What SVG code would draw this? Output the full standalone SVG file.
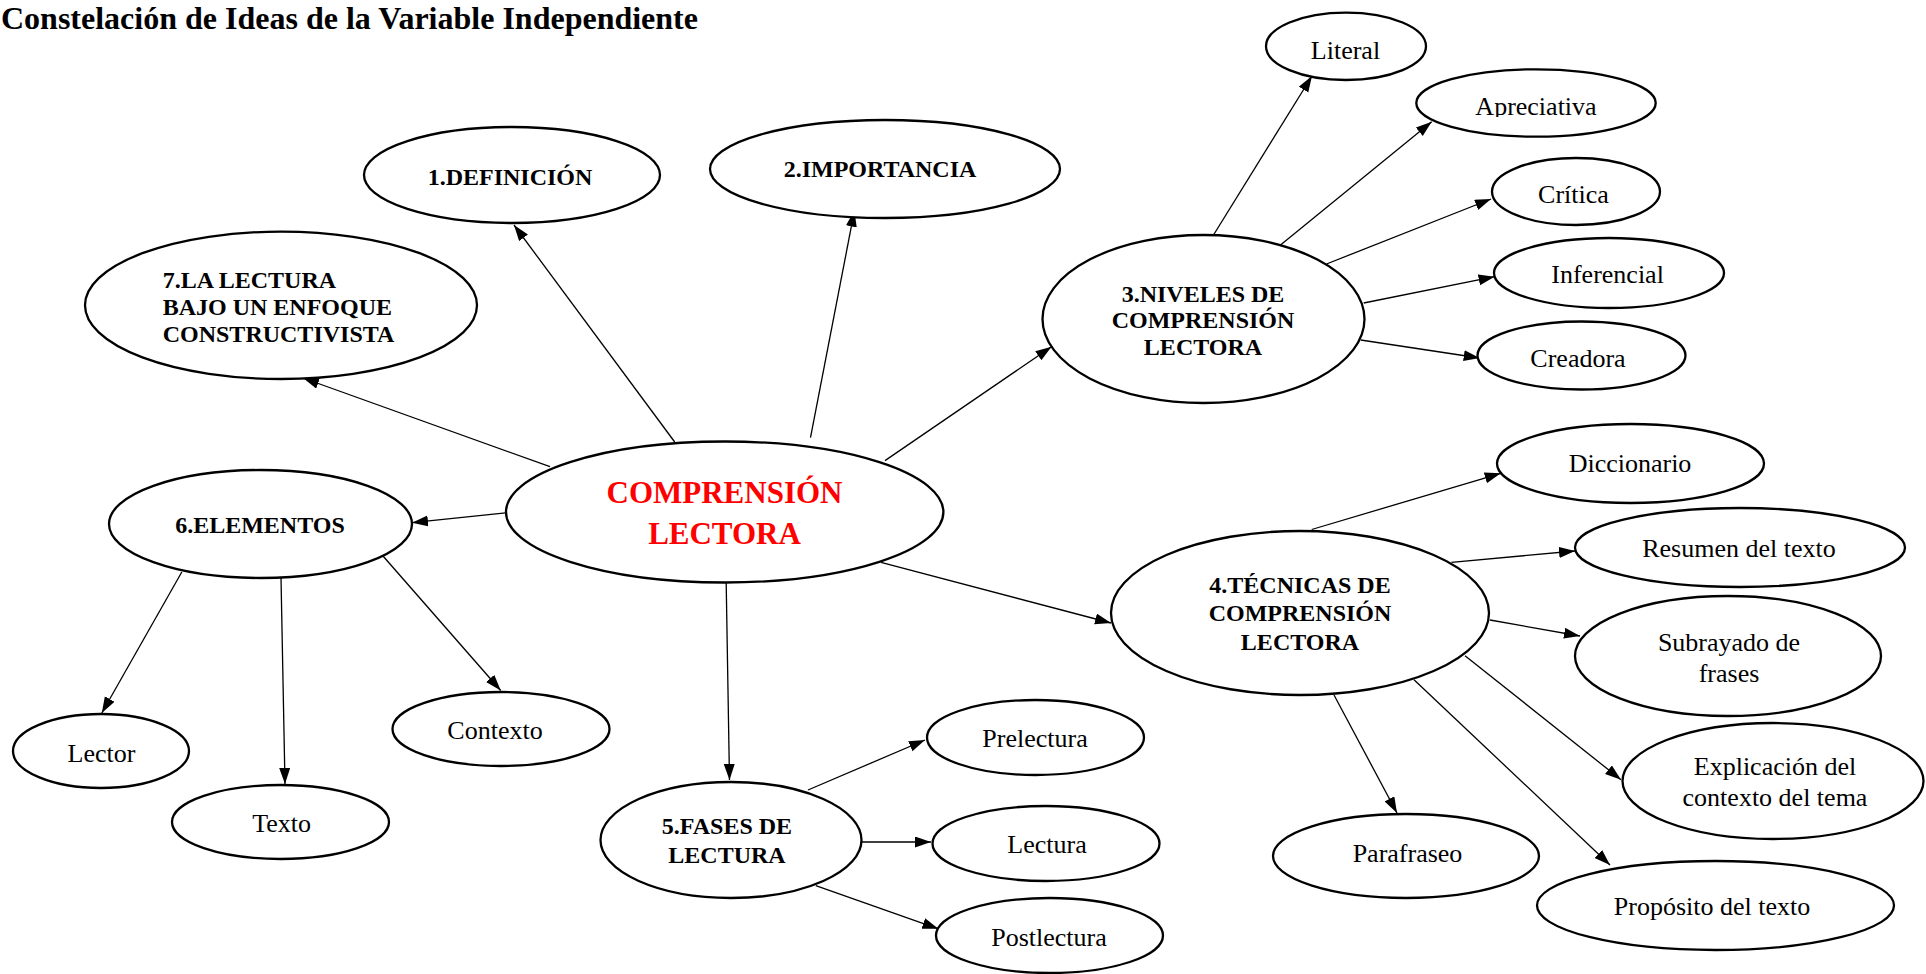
<svg xmlns="http://www.w3.org/2000/svg" width="1926" height="974" viewBox="0 0 1926 974">
<style>
  .n ellipse { fill: #fff; stroke: #000; stroke-width: 2.3; }
  .b { font-family: "Liberation Serif", "Times New Roman", serif; font-weight: bold; font-size: 24px; fill: #000; text-anchor: middle; }
  .r { font-family: "Liberation Serif", "Times New Roman", serif; font-size: 26px; fill: #000; text-anchor: middle; }
  .main { font-family: "Liberation Serif", "Times New Roman", serif; font-weight: bold; font-size: 31px; fill: #ff0000; text-anchor: middle; }
  .title { font-family: "Liberation Serif", "Times New Roman", serif; font-weight: bold; font-size: 32px; fill: #000; }
  #connectors line { stroke: #000; stroke-width: 1.3; marker-end: url(#ah); }
</style>
<defs>
  <marker id="ah" markerUnits="userSpaceOnUse" markerWidth="17" markerHeight="12" refX="16" refY="5.5" orient="auto">
    <path d="M0,0 L16,5.5 L0,11 z" fill="#000"/>
  </marker>
  <clipPath id="clipAp"><rect x="1400" y="60" width="300" height="57"/></clipPath>
</defs>
<rect width="1926" height="974" fill="#fff"/>
<text class="title" x="1" y="29">Constelación de Ideas de la Variable Independiente</text>

<g id="connectors">
  <line x1="550" y1="466.7" x2="303" y2="378"/>
  <line x1="674.7" y1="442" x2="514" y2="225"/>
  <line x1="810.5" y1="437.7" x2="854.4" y2="210.7"/>
  <line x1="885" y1="460.6" x2="1051.5" y2="346.7"/>
  <line x1="505.6" y1="512.8" x2="412" y2="522.7"/>
  <line x1="726" y1="571.4" x2="729.5" y2="780"/>
  <line x1="881" y1="562.4" x2="1111" y2="623"/>
  <line x1="1213.5" y1="235" x2="1312" y2="76"/>
  <line x1="1280.5" y1="245" x2="1431.7" y2="121.7"/>
  <line x1="1326.5" y1="264" x2="1491" y2="199"/>
  <line x1="1363.7" y1="303" x2="1494.6" y2="276.7"/>
  <line x1="1360.7" y1="340" x2="1479.7" y2="358"/>
  <line x1="181.8" y1="572" x2="101.8" y2="713"/>
  <line x1="281" y1="577.6" x2="285" y2="784"/>
  <line x1="379.5" y1="552" x2="500.7" y2="690.5"/>
  <line x1="1311.7" y1="529.5" x2="1500.7" y2="473.3"/>
  <line x1="1451.5" y1="562.4" x2="1575" y2="551"/>
  <line x1="1490" y1="620" x2="1580" y2="636"/>
  <line x1="1465" y1="655.7" x2="1621" y2="779.7"/>
  <line x1="1414" y1="679.7" x2="1610" y2="865"/>
  <line x1="1334" y1="695" x2="1397" y2="813"/>
  <line x1="808" y1="790" x2="925" y2="740"/>
  <line x1="862" y1="842" x2="931" y2="842"/>
  <line x1="815.8" y1="885.7" x2="938.4" y2="928.8"/>
</g>

<g id="node-center" class="n">
  <ellipse cx="724.7" cy="512" rx="218.7" ry="70.5"/>
  <text class="main" x="724.5" y="502.7">COMPRENSIÓN</text>
  <text class="main" x="724.5" y="544.3">LECTORA</text>
</g>
<g id="node-definicion" class="n">
  <ellipse cx="512" cy="175" rx="148" ry="48"/>
  <text class="b" x="510" y="185">1.DEFINICIÓN</text>
</g>
<g id="node-importancia" class="n">
  <ellipse cx="885" cy="169" rx="175" ry="49"/>
  <text class="b" x="880" y="177">2.IMPORTANCIA</text>
</g>
<g id="node-niveles" class="n">
  <ellipse cx="1203.5" cy="319" rx="161" ry="84"/>
  <text class="b" x="1203" y="301.7">3.NIVELES DE</text>
  <text class="b" x="1203" y="328.3">COMPRENSIÓN</text>
  <text class="b" x="1203" y="355">LECTORA</text>
</g>
<g id="node-tecnicas" class="n">
  <ellipse cx="1300" cy="613" rx="189" ry="82"/>
  <text class="b" x="1300" y="593">4.TÉCNICAS DE</text>
  <text class="b" x="1300" y="621.4">COMPRENSIÓN</text>
  <text class="b" x="1300" y="649.7">LECTORA</text>
</g>
<g id="node-fases" class="n">
  <ellipse cx="731" cy="840" rx="130.5" ry="58"/>
  <text class="b" x="727" y="834">5.FASES DE</text>
  <text class="b" x="727" y="863">LECTURA</text>
</g>
<g id="node-elementos" class="n">
  <ellipse cx="260.5" cy="524" rx="151.5" ry="54"/>
  <text class="b" x="260" y="532.6">6.ELEMENTOS</text>
</g>
<g id="node-lectura-enfoque" class="n">
  <ellipse cx="281" cy="305.3" rx="196" ry="73.7"/>
  <text class="b" style="text-anchor:start" x="162.7" y="288.3">7.LA LECTURA</text>
  <text class="b" style="text-anchor:start" x="162.7" y="315">BAJO UN ENFOQUE</text>
  <text class="b" style="text-anchor:start" x="162.7" y="342.3">CONSTRUCTIVISTA</text>
</g>

<g id="node-literal" class="n">
  <ellipse cx="1346" cy="46.3" rx="80" ry="33.7"/>
  <text class="r" x="1345.5" y="59.3">Literal</text>
</g>
<g id="node-apreciativa" class="n">
  <ellipse cx="1536" cy="103" rx="119.7" ry="33.7"/>
  <text class="r" x="1536" y="115" clip-path="url(#clipAp)">Apreciativa</text>
</g>
<g id="node-critica" class="n">
  <ellipse cx="1576" cy="191.5" rx="84" ry="33.5"/>
  <text class="r" x="1573.5" y="203">Crítica</text>
</g>
<g id="node-inferencial" class="n">
  <ellipse cx="1609" cy="273" rx="115" ry="35"/>
  <text class="r" x="1607.6" y="283">Inferencial</text>
</g>
<g id="node-creadora" class="n">
  <ellipse cx="1581.5" cy="355.5" rx="104" ry="34"/>
  <text class="r" x="1578" y="367">Creadora</text>
</g>

<g id="node-diccionario" class="n">
  <ellipse cx="1630.5" cy="463.5" rx="133.5" ry="39.5"/>
  <text class="r" x="1630" y="471.7">Diccionario</text>
</g>
<g id="node-resumen" class="n">
  <ellipse cx="1740" cy="547.5" rx="165" ry="39.5"/>
  <text class="r" x="1739" y="556.7">Resumen del texto</text>
</g>
<g id="node-subrayado" class="n">
  <ellipse cx="1728" cy="656" rx="153" ry="60"/>
  <text class="r" x="1729" y="651.4">Subrayado de</text>
  <text class="r" x="1729" y="681.5">frases</text>
</g>
<g id="node-explicacion" class="n">
  <ellipse cx="1773" cy="781" rx="150.5" ry="58"/>
  <text class="r" x="1775" y="775">Explicación del</text>
  <text class="r" x="1775" y="806">contexto del tema</text>
</g>
<g id="node-parafraseo" class="n">
  <ellipse cx="1406" cy="856" rx="133" ry="42"/>
  <text class="r" x="1407.5" y="862.4">Parafraseo</text>
</g>
<g id="node-proposito" class="n">
  <ellipse cx="1715.5" cy="905.5" rx="178.5" ry="44.5"/>
  <text class="r" x="1712" y="914.7">Propósito del texto</text>
</g>

<g id="node-prelectura" class="n">
  <ellipse cx="1035.5" cy="737.5" rx="108.5" ry="37.5"/>
  <text class="r" x="1035" y="747">Prelectura</text>
</g>
<g id="node-lectura" class="n">
  <ellipse cx="1046" cy="843.5" rx="113.5" ry="37.5"/>
  <text class="r" x="1047" y="853">Lectura</text>
</g>
<g id="node-postlectura" class="n">
  <ellipse cx="1049.5" cy="935.5" rx="113.5" ry="37.5"/>
  <text class="r" x="1049" y="945.5">Postlectura</text>
</g>

<g id="node-lector" class="n">
  <ellipse cx="101" cy="751" rx="88" ry="37"/>
  <text class="r" x="101.5" y="762">Lector</text>
</g>
<g id="node-texto" class="n">
  <ellipse cx="280.5" cy="822" rx="108.5" ry="37"/>
  <text class="r" x="281.6" y="832">Texto</text>
</g>
<g id="node-contexto" class="n">
  <ellipse cx="501" cy="729" rx="108.5" ry="37"/>
  <text class="r" x="495" y="739">Contexto</text>
</g>
</svg>
